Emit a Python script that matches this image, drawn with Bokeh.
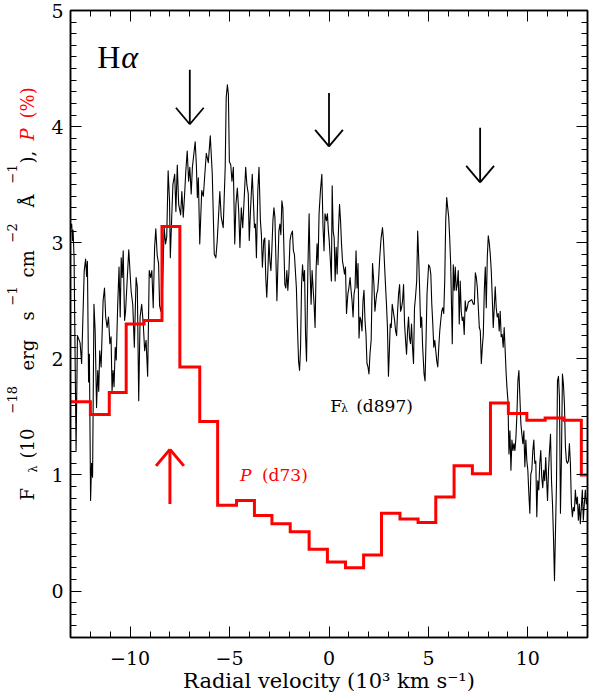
import math
import numpy as np
from bokeh.plotting import figure
from bokeh.layouts import row
from bokeh.models import (Range1d, LinearAxis, FixedTicker, Label, CustomLabelingPolicy)
from bokeh.embed import file_html
from bokeh.resources import INLINE

# ---------------- data ----------------
# H-alpha flux spectrum F_lambda (d897): radial velocity (10^3 km/s) and flux (1e-18 cgs)
spec_v = [
    -12.99, -12.94, -12.90, -12.87, -12.82, -12.72, -12.65, -12.52, -12.44, -12.31, -12.24, -12.19, -12.15,
    -12.09, -12.05, -11.99, -11.94, -11.89, -11.82, -11.76, -11.69, -11.63, -11.58, -11.53, -11.46, -11.36,
    -11.29, -11.23, -11.16, -11.09, -11.02, -10.96, -10.91, -10.86, -10.81, -10.75, -10.70, -10.63, -10.56,
    -10.50, -10.45, -10.40, -10.35, -10.28, -10.23, -10.07, -9.95, -9.87, -9.79, -9.70, -9.64, -9.57, -9.50,
    -9.42, -9.34, -9.27, -9.20, -9.12, -9.04, -8.97, -8.91, -8.84, -8.77, -8.71, -8.64, -8.57, -8.52,
    -8.46, -8.39, -8.29, -8.22, -8.16, -8.09, -8.02, -7.98, -7.91, -7.85, -7.76, -7.70, -7.63, -7.56, -7.46,
    -7.40, -7.33, -7.26, -7.20, -7.13, -7.06, -7.00, -6.93, -6.87, -6.80, -6.73, -6.67, -6.62, -6.57, -6.50,
    -6.40, -6.32, -6.24, -6.17, -6.07, -5.97, -5.87, -5.77, -5.69, -5.62, -5.49, -5.42, -5.32, -5.22, -5.17,
    -5.11, -5.06, -5.01, -4.94, -4.88, -4.81, -4.74, -4.68, -4.61, -4.54, -4.48, -4.41, -4.34, -4.28, -4.19,
    -4.13, -4.06,
    -4.01, -3.95, -3.86, -3.81, -3.75, -3.70, -3.65, -3.58, -3.52, -3.45, -3.40, -3.35, -3.28, -3.23, -3.18,
    -3.13, -3.08, -3.02, -2.97, -2.92, -2.87, -2.82, -2.77, -2.72, -2.62, -2.57, -2.52, -2.47, -2.42, -2.37,
    -2.32, -2.22, -2.17, -2.12, -2.07, -2.02, -1.96, -1.91, -1.84, -1.79, -1.74, -1.64, -1.58, -1.53, -1.48,
    -1.43, -1.38, -1.33, -1.28, -1.23, -1.18, -1.13, -1.06, -1.00, -0.95, -0.90, -0.85, -0.80, -0.75, -0.70,
    -0.65, -0.60, -0.55, -0.50, -0.43, -0.36, -0.30, -0.25, -0.20, -0.13, -0.08, -0.03, 0.01, 0.07, 0.12,
    0.16, 0.21, 0.26, 0.31, 0.36, 0.41,
    0.48, 0.53, 0.58, 0.63, 0.68, 0.73, 0.78, 0.83, 0.88, 0.95, 1.00, 1.06, 1.11, 1.16, 1.21, 1.26, 1.31,
    1.36, 1.41, 1.46, 1.51, 1.56, 1.61, 1.66, 1.71, 1.76, 1.81, 1.86, 1.91, 1.96, 2.01, 2.06, 2.12, 2.19,
    2.26, 2.31, 2.36, 2.40, 2.45, 2.50, 2.55, 2.62, 2.69, 2.74, 2.79, 2.84, 2.89, 2.94, 2.99, 3.03, 3.08,
    3.13, 3.18, 3.25, 3.30, 3.35, 3.40, 3.45, 3.50, 3.55, 3.60, 3.65, 3.70, 3.75, 3.80, 3.85, 3.90, 3.95,
    4.00, 4.05, 4.10, 4.15, 4.20, 4.25, 4.30, 4.35, 4.41, 4.46, 4.51, 4.56, 4.61, 4.66, 4.71, 4.78, 4.83,
    4.88, 4.93,
    5.01, 5.07, 5.12, 5.17, 5.22, 5.27, 5.32, 5.37, 5.42, 5.47, 5.52, 5.57, 5.62, 5.67, 5.72, 5.77, 5.82,
    5.87, 5.92, 5.97, 6.02, 6.07, 6.12, 6.17, 6.20, 6.25, 6.30, 6.35, 6.40, 6.45, 6.50, 6.55, 6.60, 6.65,
    6.70, 6.75, 6.80, 6.85, 6.90, 6.95, 7.01, 7.10, 7.18, 7.26, 7.31, 7.36, 7.41, 7.46, 7.51, 7.56, 7.61,
    7.66, 7.71, 7.76, 7.81, 7.86, 7.91, 7.96, 8.01, 8.06, 8.11, 8.16, 8.21, 8.26, 8.31, 8.36, 8.41, 8.46,
    8.51, 8.56, 8.61, 8.66, 8.71, 8.76, 8.81, 8.86, 8.91, 8.95, 9.00,
    9.05, 9.10, 9.15, 9.20, 9.25, 9.30, 9.35, 9.40, 9.45, 9.50, 9.55, 9.60, 9.65, 9.70, 9.75, 9.80, 9.85,
    9.90, 9.95, 10.00, 10.05, 10.10, 10.15, 10.20, 10.25, 10.30, 10.35, 10.40, 10.45, 10.50, 10.55, 10.60,
    10.65, 10.70, 10.75, 10.80, 10.85, 10.90, 10.94, 10.99, 11.04, 11.09, 11.14, 11.19, 11.24, 11.29, 11.34,
    11.39, 11.44, 11.49, 11.54, 11.59, 11.64, 11.69, 11.74, 11.79, 11.84, 11.89, 11.94, 11.99, 12.04, 12.09,
    12.14, 12.19, 12.24, 12.29, 12.34, 12.39, 12.44, 12.49, 12.54, 12.59, 12.64, 12.69, 12.74, 12.79, 12.84,
    12.89, 12.94, 13.00,
]
spec_f = [
    3.13, 3.16, 3.02, 3.11, 2.87, 1.21, 2.20, 2.14, 1.96, 2.76, 2.86, 2.71, 2.84,
    1.80, 2.04, 0.78, 1.10, 0.98, 2.47, 2.24, 1.58, 1.90, 1.72, 2.07, 1.93, 2.50,
    2.61, 2.36, 2.27, 2.36, 2.13, 2.19, 1.72, 1.90, 1.76, 2.10, 1.99, 2.44, 2.79,
    2.36, 2.87, 2.70, 2.93, 2.33, 2.41, 2.94, 2.58, 2.47, 2.10, 2.70, 2.62, 1.64, 2.36,
    2.47, 2.30, 2.07, 2.16, 1.85, 2.76, 2.70, 2.76, 2.44, 2.96, 3.12, 2.89, 2.82, 2.46,
    2.41, 2.50, 3.13, 2.99, 3.05, 3.62, 3.36, 2.87, 3.22, 3.50, 3.59, 3.27, 3.67, 3.33, 3.24,
    3.44, 3.22, 3.42, 3.62, 3.79, 3.53, 3.65, 3.42, 3.65, 3.76, 3.87, 3.67, 3.39, 3.56, 2.99,
    3.45, 3.40, 3.60, 3.77, 3.69, 3.92, 3.59, 2.90, 2.87, 3.02, 3.44, 3.22, 3.13, 3.65, 4.25,
    4.36, 4.28, 3.70, 3.67, 3.53, 3.65, 2.99, 3.33, 3.47, 3.27, 2.96, 3.30, 3.13, 3.33, 3.65,
    3.50, 3.42,
    3.02, 3.27, 3.59, 3.39, 3.13, 3.16, 2.87, 3.45, 3.65, 3.19, 3.07, 2.79, 3.02, 3.04, 2.70,
    2.53, 2.73, 3.02, 2.84, 2.76, 2.96, 3.19, 3.30, 3.22, 2.50, 2.81, 3.10, 3.16, 3.07, 3.36,
    3.30, 2.64, 2.61, 2.76, 2.59, 2.73, 3.02, 3.07, 3.10, 2.93, 2.90, 2.61, 2.24, 1.98, 1.90,
    2.10, 2.64, 2.81, 2.67, 2.76, 2.21, 1.98, 2.79, 3.25, 2.76, 2.47, 2.76, 2.61, 2.47, 2.27,
    2.76, 2.99, 2.81, 3.25, 3.45, 3.59, 3.13, 2.93, 3.25, 3.19, 3.25, 3.10, 3.02, 2.84, 2.67,
    3.49, 3.10, 3.04, 2.67, 2.96, 2.73,
    3.13, 3.33, 3.19, 2.99, 2.84, 2.79, 2.73, 2.79, 2.39, 2.56, 2.61, 2.70, 2.59, 2.50, 2.36, 2.56, 2.61,
    2.93, 2.61, 2.82, 2.18, 2.36, 2.33, 2.24, 2.50, 2.59, 2.33, 2.21, 1.96, 1.93, 1.87, 2.04, 2.16, 2.82,
    2.64, 2.41, 2.50, 2.56, 2.59, 2.70, 2.87, 3.04, 3.13, 3.02, 2.82, 2.64, 2.47, 2.27, 1.85, 2.04, 2.30,
    2.27, 2.47, 2.39, 2.33, 2.24, 2.20, 2.41, 2.56, 2.64, 2.41, 2.44, 2.50, 2.64, 2.30, 2.16, 2.04, 2.24,
    2.36, 2.18, 2.13, 2.30, 2.10, 1.96, 2.44, 2.53, 2.67, 3.10, 2.87, 2.59, 2.27, 2.36, 2.10, 1.87, 1.81,
    2.16, 2.56,
    2.81, 2.79, 2.73, 2.47, 2.30, 2.10, 2.16, 2.07, 1.98, 1.93, 2.10, 2.24, 2.33, 2.41, 2.44, 2.39, 2.67,
    3.19, 3.39, 3.30, 3.22, 3.04, 2.81, 2.39, 2.13, 2.81, 2.59, 2.79, 2.59, 2.64, 2.76, 2.30, 2.67, 2.41,
    2.33, 2.36, 2.21, 2.50, 2.41, 2.44, 2.49, 2.50, 2.51, 2.47, 2.47, 2.74, 2.70, 2.61, 2.44, 2.27, 2.24,
    1.96, 2.10, 2.21, 2.59, 2.79, 2.44, 2.87, 3.06, 3.00, 2.90, 2.76, 2.53, 2.27, 2.44, 2.62, 2.44, 2.36,
    2.39, 2.24, 2.41, 2.19, 2.21, 2.10, 2.27, 2.07, 1.87, 1.75, 1.64,
    1.18, 1.38, 1.04, 1.30, 1.21, 1.27, 1.21, 1.32, 1.52, 1.81, 1.90, 1.67, 1.44, 1.35, 1.27, 1.38, 1.07,
    1.30, 1.12, 1.04, 0.84, 0.67, 1.01, 1.04, 1.21, 1.30, 1.10, 1.12, 0.64, 0.95, 0.87, 1.10,
    1.21, 0.98, 0.89, 1.04, 0.95, 1.15, 0.98, 0.78, 1.04, 1.21, 1.35, 0.95, 0.75, 0.46, 0.09,
    0.52, 0.92, 1.81, 1.85, 1.67, 0.67, 1.15, 1.87, 1.78, 1.61, 1.24, 1.12, 1.10, 1.12, 1.27,
    1.10, 0.75, 0.64, 0.72, 0.69, 0.87, 0.75, 0.81, 0.61, 0.75, 0.58, 0.72, 0.87, 0.61, 0.75,
    0.87, 0.75, 0.80,
]

# Polarization P (%) (d73): bin edges (10^3 km/s) and binned values
pol_edges = [-13.0, -12.0, -11.05, -10.2, -9.3, -8.4, -7.5, -6.5, -5.6, -4.65, -3.75, -2.87, -1.95,
             -1.0, -0.08, 0.83, 1.74, 2.64, 3.57, 4.48, 5.37, 6.29, 7.21, 8.12, 9.02, 9.95, 10.87,
             11.81, 12.69, 13.0]
pol_vals = [1.63, 1.52, 1.71, 2.30, 2.33, 3.14, 1.93, 1.46, 0.74, 0.78, 0.65, 0.58, 0.51, 0.36,
            0.25, 0.20, 0.31, 0.67, 0.62, 0.59, 0.81, 1.08, 1.01, 1.62, 1.53, 1.47, 1.49, 1.47, 1.00]

# Marker arrows: black (pointing down) and red (pointing up)
arrow_v = [-7.0, 0.0, 7.6]
arrow_tail = [4.49, 4.29, 3.99]
arrow_tip = [4.02, 3.83, 3.52]
red_arrow_v = [-8.0]
red_arrow_tail = [0.75]
red_arrow_tip = [1.22]

# Axis ticks
x_ticks = [-10, -5, 0, 5, 10]
x_tick_labels = ["\u221210", "\u22125", "0", "5", "10"]
y_ticks = [0, 1, 2, 3, 4, 5]
y_tick_labels = ["0", "1", "2", "3", "4", "5"]

# ---------------- main figure ----------------
SERIF = "DejaVu Serif"
THIN_SERIF = "Liberation Serif"
X0, X1, Y0, Y1 = -13.0, 13.0, -0.4, 5.0
STRIP_W = 45
BORDER_TOP, BORDER_BOTTOM = 10, 63

p = figure(width=591 - STRIP_W, height=700, x_range=Range1d(X0, X1), y_range=Range1d(Y0, Y1),
           output_backend="svg", toolbar_location=None, title=None,
           x_axis_type=None, y_axis_type=None,
           min_border_left=70 - STRIP_W, min_border_right=0,
           min_border_top=BORDER_TOP, min_border_bottom=BORDER_BOTTOM)
p.xgrid.visible = False
p.ygrid.visible = False
p.outline_line_color = "black"
p.outline_line_width = 1.5
p.background_fill_color = "white"
p.border_fill_color = "white"

x_minor = list(range(-13, 14))
y_minor = [round(v, 1) for v in np.arange(-0.4, 5.001, 0.1)]


def make_axis(ticks, minor, labels, show, standoff):
    ax = LinearAxis(ticker=FixedTicker(ticks=ticks, minor_ticks=minor))
    ax.axis_line_color = "black"
    ax.axis_line_width = 1.5
    ax.major_tick_in = 11
    ax.major_tick_out = 0
    ax.minor_tick_in = 6
    ax.minor_tick_out = 0
    ax.major_tick_line_color = "black"
    ax.minor_tick_line_color = "black"
    ax.major_tick_line_width = 1
    ax.minor_tick_line_width = 1
    if show:
        ax.major_label_text_font = SERIF
        ax.major_label_text_font_size = "19px"
        ax.major_label_text_color = "black"
        ax.major_label_standoff = standoff
        ax.major_label_overrides = {t: l for t, l in zip(ticks, labels)}
    else:
        # tick marks only: no labels are drawn on the mirrored axes
        ax.major_label_text_font_size = "1px"
        ax.major_label_standoff = 0
        ax.major_label_policy = CustomLabelingPolicy(
            code="for (const i of Array.from(indices)) { indices.unset(i) }")
    return ax


xb = make_axis(x_ticks, x_minor, x_tick_labels, True, 13)
xb.axis_label = "Radial velocity (10\u00b3 km s\u207b\u00b9)"
xb.axis_label_text_font = SERIF
xb.axis_label_text_font_size = "21px"
xb.axis_label_text_font_style = "normal"
xb.axis_label_text_color = "black"
xb.axis_label_standoff = 1
p.add_layout(xb, "below")
p.add_layout(make_axis(y_ticks, y_minor, y_tick_labels, True, 7), "left")
p.add_layout(make_axis(x_ticks, x_minor, x_tick_labels, False, 0), "above")
p.add_layout(make_axis(y_ticks, y_minor, y_tick_labels, False, 0), "right")

# spectrum
n = min(len(spec_v), len(spec_f))
p.line(spec_v[:n], spec_f[:n], line_color="black", line_width=1.1, line_join="round")

# polarization histogram
p.step(pol_edges, pol_vals + [pol_vals[-1]], mode="after", line_color="#ff0000",
       line_width=3, line_join="miter")

# arrows (shaft + open V head); head size in pixels converted to data units
PX_X = 521.0 / (X1 - X0)
PX_Y = 627.0 / (Y1 - Y0)
hw = 14.0 / PX_X
hl = 16.5 / PX_Y


def draw_arrows(vs, tails, tips, color, width):
    vs = np.array(vs); tails = np.array(tails); tips = np.array(tips)
    sgn = np.sign(tails - tips)
    p.segment(vs, tails, vs, tips, line_color=color, line_width=width)
    p.segment(vs - hw, tips + sgn * hl, vs, tips, line_color=color, line_width=width)
    p.segment(vs + hw, tips + sgn * hl, vs, tips, line_color=color, line_width=width)


draw_arrows(arrow_v, arrow_tail, arrow_tip, "black", 1.8)
draw_arrows(red_arrow_v, red_arrow_tail, red_arrow_tip, "#ff0000", 3)


def lab(fig, text, x, y, size, color="black", style="normal", angle=0.0, align="left", font=SERIF):
    fig.add_layout(Label(x=x, y=y, text=text, text_font=font, text_font_size=f"{size}px",
                         text_color=color, text_font_style=style, angle=angle,
                         text_align=align, text_baseline="alphabetic"))


# H-alpha
lab(p, "H", -11.65, 4.596, 32, font=THIN_SERIF)
lab(p, "\u03b1", -10.45, 4.596, 32, style="italic", font=THIN_SERIF)

# F_lambda (d897)
lab(p, "F", 0.06, 1.592, 17)
lab(p, "\u03bb", 0.60, 1.573, 11)
lab(p, "(d897)", 1.37, 1.592, 17)

# P (d73)
lab(p, "P", -4.47, 0.996, 17, color="#ff0000", style="italic")
lab(p, "(d73)", -3.37, 0.996, 17, color="#ff0000")

# ---------------- left strip holding the rotated y-axis title ----------------
# x in pixels from the strip's left edge, y in the main plot's flux units
s = figure(width=STRIP_W, height=700, x_range=Range1d(0, STRIP_W), y_range=Range1d(Y0, Y1),
           output_backend="svg", toolbar_location=None, title=None,
           x_axis_type=None, y_axis_type=None, min_border_left=0, min_border_right=0,
           min_border_top=BORDER_TOP, min_border_bottom=BORDER_BOTTOM)
s.xgrid.visible = False
s.ygrid.visible = False
s.outline_line_color = None
s.background_fill_color = "white"
s.border_fill_color = "white"

A = math.pi / 2
XB, XSUB, XSUP = 27, 33, 11
lab(s, "F", XB, 0.780, 18, angle=A)
lab(s, "\u03bb", XSUB, 1.021, 11, angle=A)
lab(s, "(10", XB, 1.142, 18, angle=A)
lab(s, "\u221218", XSUP, 1.530, 13, angle=A)
lab(s, "erg", XB, 1.900, 18, angle=A)
lab(s, "s", XB, 2.331, 18, angle=A)
lab(s, "\u22121", XSUP, 2.460, 13, angle=A)
lab(s, "cm", XB, 2.701, 18, angle=A)
lab(s, "\u22122", XSUP, 3.002, 13, angle=A)
lab(s, "\u00c5", XB, 3.304, 18, angle=A)
lab(s, "\u22121", XSUP, 3.510, 13, angle=A)
lab(s, "),", XB, 3.683, 18, angle=A)
lab(s, "P", XB, 3.881, 18, color="#ff0000", style="italic", angle=A)
lab(s, "(%)", XB, 4.070, 18, color="#ff0000", angle=A)

layout = row(s, p, spacing=0)
open("out.html", "w").write(file_html(layout, INLINE))
